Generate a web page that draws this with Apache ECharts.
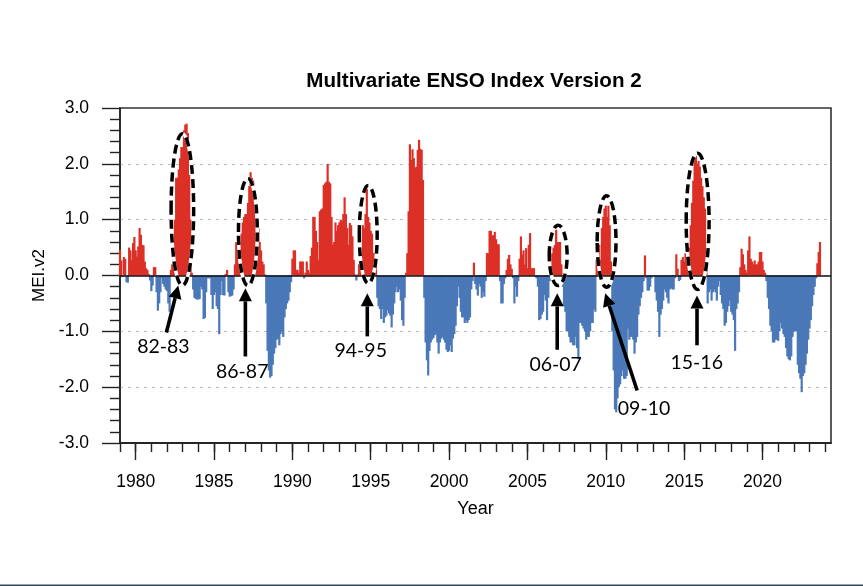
<!DOCTYPE html>
<html>
<head>
<meta charset="utf-8">
<style>html,body{margin:0;padding:0;background:#fff}#chart{width:863px;height:586px}</style>
<script src="https://cdn.jsdelivr.net/npm/echarts@6/dist/echarts.min.js"></script>
</head>
<body>
<div id="chart"></div>
<script>
// MEI.v2, one row per year, Jan 1979 on
const startYear = 1979;
const meiValues = [
  .46,.27,-.03,.33,.3,-.12,-.13,.5,.45,.28,.58,.69,
  .45,.34,.52,.85,.73,.55,.54,.25,.13,.1,.03,-.09,
  -.28,-.18,.15,.15,-.3,-.63,-.5,-.3,-.05,-.15,-.2,-.25,
  -.28,-.5,-.65,.1,.2,.5,1.0,1.75,1.75,1.9,2.1,2.3,
  2.3,2.6,2.7,2.72,2.55,1.8,1.0,.05,-.25,-.4,-.42,-.43,
  -.43,-.42,-.2,-.25,-.78,-.76,-.3,-.05,-.05,-.05,-.35,-.6,
  -.35,-.3,-.55,-.6,-1.05,-.35,-.1,-.35,-.36,.03,.1,-.3,
  -.38,-.37,-.36,-.25,.2,.6,.6,.6,.6,.75,.95,1.05,
  1.1,1.1,1.3,1.6,1.85,1.75,1.7,1.2,1.0,.9,.85,.6,
  .45,.25,.2,.02,-.5,-1.35,-1.7,-1.83,-1.8,-1.6,-1.4,-1.3,
  -1.15,-1.13,-1.25,-1.05,-1.0,-1.1,-.75,-.6,-.5,-.45,-.3,-.12,
  .3,.45,.45,.1,.1,.05,.25,.25,.25,-.05,.05,.25,
  .1,.05,.35,.5,1.05,1.05,.8,.6,.28,1.15,1.18,1.2,
  1.62,1.65,1.68,2.0,1.68,1.65,1.05,.55,.6,.95,.8,.9,
  .95,1.0,.98,1.1,1.4,1.1,.85,.55,.94,.9,.7,.28,
  .02,-.09,.02,.2,.2,.2,.9,.85,1.1,1.55,1.05,.95,
  .8,.75,.4,.4,.4,-.4,-.55,-.6,-.78,-.6,-.85,-.75,
  -.72,-.62,-.68,-.72,-.93,-.7,-.5,-.3,-.2,-.3,-.25,-.45,
  -.8,-.9,-.4,.05,.4,1.15,2.35,2.07,2.26,2.1,1.93,1.95,
  2.25,2.43,2.27,2.25,1.71,-.4,-1.2,-1.52,-1.79,-1.35,-1.2,-1.15,
  -1.12,-1.07,-1.05,-1.2,-1.4,-1.2,-1.13,-1.1,-1.15,-1.2,-1.33,-1.37,
  -1.35,-1.25,-1.37,-1.13,-1.05,-.9,-.55,-.2,-.4,-.65,-.75,-.75,
  -.85,-.8,-.85,-.8,-.75,-.25,-.1,.23,-.15,-.25,-.36,-.15,
  -.2,-.4,-.3,-.38,-.1,.4,.4,.8,.8,.72,.72,.78,
  .65,.56,.56,-.1,-.5,-.5,-.15,-.05,.1,.3,.37,.2,
  .12,-.05,-.5,-.2,-.38,-.1,.3,.7,.37,.45,.2,.49,
  .13,.55,.76,.13,.13,.13,-.02,-.05,-.2,-.8,-.78,-.7,
  -.65,-.35,-.45,-.8,-.4,-.1,.2,.4,.5,.55,.82,.6,
  .6,.6,.2,-.2,-.55,-.65,-1.0,-1.0,-1.1,-1.2,-1.2,-1.25,
  -1.25,-1.1,-1.3,-1.5,-.85,-.85,-.9,-.95,-1.0,-1.15,-1.1,-1.1,
  -1.0,-.85,-.85,-.6,-.65,.28,.58,.55,.28,.85,1.05,1.2,
  1.25,1.05,1.25,.9,.25,-1.0,-1.7,-2.4,-2.45,-2.2,-2.0,-1.95,
  -1.8,-1.7,-1.85,-1.85,-1.8,-.95,-1.15,-1.1,-1.1,-1.15,-1.4,-1.2,
  -1.1,-.7,-.55,-.4,-.3,-.1,.36,-.05,-.27,-.27,-.2,-.05,
  0,-.02,-.3,-.45,-.65,-1.1,-.7,-.6,-.45,-.25,-.3,-.4,
  -.5,-.25,-.22,-.25,-.25,-.05,.38,.12,-.1,-.08,.28,.33,
  .25,.4,.3,.4,.5,.9,1.3,1.7,2.1,2.15,2.0,2.05,
  1.95,1.75,1.6,1.4,1.2,.15,-.5,-.3,-.25,-.45,-.3,-.25,
  -.3,-.45,-.2,-.1,-.35,-.5,-.6,-.9,-.85,-.65,-.55,-.45,
  -.65,-.7,-.8,-1.35,-.6,-.5,-.3,.15,.48,.38,.2,.1,
  .05,.45,.7,.3,.25,.2,.27,.2,.2,.25,.42,.42,
  .25,.1,.05,-.1,-.4,-.6,-.9,-1.0,-1.2,-1.2,-1.15,-1.15,
  -1.17,-1.0,-.85,-.95,-1.05,-1.1,-1.3,-1.45,-1.5,-1.52,-1.45,-1.1,
  -1.0,-1.0,-1.0,-1.6,-1.75,-1.85,-2.09,-1.8,-1.75,-1.6,-1.4,-1.15,
  -.95,-.8,-.55,-.35,-.2,-.05,.22,.42,.6
];

const labelYears = [1980,1985,1990,1995,2000,2005,2010,2015,2020];
const minorYears = [1979,1980,1981,1982,1983,1984,1985,1986,1987,1988,1989,1990,1991,1992,1993,1994,1995,1996,1997,1998,1999,2000,2001,2002,2003,2004,2005,2006,2007,2008,2009,2010,2011,2012,2013,2014,2015,2016,2017,2018,2019,2020,2021,2022,2023,2024];

// the circled El Nino events: ellipse centre/half width in years, top/bottom in index units
const eventNames  = ['82-83','86-87','94-95','06-07','09-10','15-16'];
const eventCentre = [1982.98,1987.16,1994.84,2006.96,2010.05,2015.86];
const eventRadius = [0.72,0.6,0.57,0.57,0.6,0.73];
const eventTop    = [2.54,1.74,1.61,0.9,1.43,2.19];
const eventBottom = [-0.18,-0.18,-0.14,-0.18,-0.21,-0.25];
const arrowTail   = [[1981.96,-1.02],[1987.0,-1.45],[1994.78,-1.09],[2006.9,-1.33],[2012.0,-2.06],[2015.82,-1.25]];
const arrowTip    = [[1982.72,-0.18],[1987.0,-0.23],[1994.78,-0.32],[2006.9,-0.32],[2009.96,-0.32],[2015.82,-0.36]];
const labelAt     = [[1981.77,-1.27],[1986.8,-1.73],[1994.36,-1.34],[2006.8,-1.6],[2012.44,-2.38],[2015.8,-1.57]];

const RED = '#dc3027';
const BLUE = '#4a78b8';
const sans = '"Liberation Sans", Arial, sans-serif';

const chart = echarts.init(document.getElementById('chart'), null, {renderer: 'canvas'});

function renderEvent(params, api) {
  const i = params.dataIndex;
  const top = api.coord([eventCentre[i], eventTop[i]]);
  const bottom = api.coord([eventCentre[i], eventBottom[i]]);
  const edge = api.coord([eventCentre[i] + eventRadius[i], eventTop[i]]);
  const shape = {cx: top[0], cy: (top[1] + bottom[1]) / 2, rx: edge[0] - top[0], ry: (bottom[1] - top[1]) / 2};

  const tip = api.coord(arrowTip[i]);
  const tail = api.coord(arrowTail[i]);
  const len = Math.hypot(tip[0] - tail[0], tip[1] - tail[1]);
  const ux = (tip[0] - tail[0]) / len, uy = (tip[1] - tail[1]) / len;
  const headLen = 13, headHalf = 6.5;
  const bx = tip[0] - ux * headLen, by = tip[1] - uy * headLen;
  const label = api.coord(labelAt[i]);

  return {type: 'group', children: [
    {type: 'ellipse', shape, style: {fill: null, stroke: '#fff', lineWidth: 3.5}},
    {type: 'ellipse', shape, style: {fill: null, stroke: '#000', lineWidth: 3.5, lineDash: [9, 5]}},
    {type: 'line', shape: {x1: tail[0], y1: tail[1], x2: bx, y2: by}, style: {stroke: '#000', lineWidth: 3.6}},
    {type: 'polygon', shape: {points: [tip, [bx - uy * headHalf, by + ux * headHalf], [bx + uy * headHalf, by - ux * headHalf]]}, style: {fill: '#000'}},
    {type: 'text', style: {x: label[0], y: label[1], text: eventNames[i], fill: '#000', font: '19.5px Lato, sans-serif', align: 'center', verticalAlign: 'middle'}}
  ]};
}

chart.setOption({
  animation: false,
  backgroundColor: '#fff',
  title: {
    text: 'Multivariate ENSO Index Version 2',
    left: 469, top: 66, textAlign: 'center',
    textStyle: {fontFamily: sans, fontSize: 20.6, fontWeight: 'bold', color: '#000'}
  },
  grid: {left: 120, right: 32, top: 108, height: 335, show: true, borderColor: '#333', borderWidth: 1.6, backgroundColor: 'transparent'},
  xAxis: [{
    type: 'value', min: startYear, max: 2024.37, position: 'bottom',
    name: 'Year', nameLocation: 'middle', nameGap: 57,
    nameTextStyle: {fontFamily: sans, fontSize: 18, color: '#000'},
    axisLine: {onZero: false, lineStyle: {color: '#222', width: 1.6}},
    axisTick: {customValues: labelYears, length: 17, lineStyle: {color: '#222', width: 1.4}},
    axisLabel: {customValues: labelYears, formatter: v => String(v), margin: 30, fontFamily: sans, fontSize: 17.5, color: '#000'},
    splitLine: {show: false}
  }, {
    type: 'value', min: startYear, max: 2024.37, position: 'bottom',
    axisLine: {onZero: false, lineStyle: {color: '#222', width: 1.6}},
    axisTick: {customValues: minorYears, length: 9, lineStyle: {color: '#222', width: 1.4}},
    axisLabel: {show: false},
    splitLine: {show: false}
  }],
  yAxis: {
    type: 'value', min: -3, max: 3, interval: 1,
    name: 'MEI.v2', nameLocation: 'middle', nameGap: 69, nameRotate: 90,
    nameTextStyle: {fontFamily: sans, fontSize: 17, color: '#000'},
    axisLine: {show: true, lineStyle: {color: '#222', width: 1.6}},
    axisTick: {show: true, length: 18, lineStyle: {color: '#222', width: 1.4}},
    minorTick: {show: true, splitNumber: 5, length: 10, lineStyle: {color: '#222', width: 1.4}},
    axisLabel: {formatter: v => v.toFixed(1), margin: 31, fontFamily: sans, fontSize: 17.5, color: '#000'},
    splitLine: {show: true, showMinLine: false, showMaxLine: false, lineStyle: {color: '#bbb', width: 1, type: [3, 5]}}
  },
  series: [{
    type: 'bar',
    barWidth: 2.2,
    data: meiValues.map((v, i) => [startYear + i / 12, v]),
    itemStyle: {color: p => (p.value[1] >= 0 ? RED : BLUE)},
    markLine: {
      silent: true, symbol: 'none', label: {show: false},
      lineStyle: {color: '#111', width: 1.6, type: 'solid'},
      data: [{yAxis: 0}]
    }
  }, {
    type: 'custom',
    silent: true,
    z: 10,
    clip: false,
    renderItem: renderEvent,
    data: eventNames.map((n, i) => [eventCentre[i], eventTop[i]])
  }],
  graphic: [{type: 'rect', left: 0, top: 584.5, shape: {width: 863, height: 1.5}, style: {fill: '#2f4a5a'}, silent: true}]
});
</script>
</body>
</html>
